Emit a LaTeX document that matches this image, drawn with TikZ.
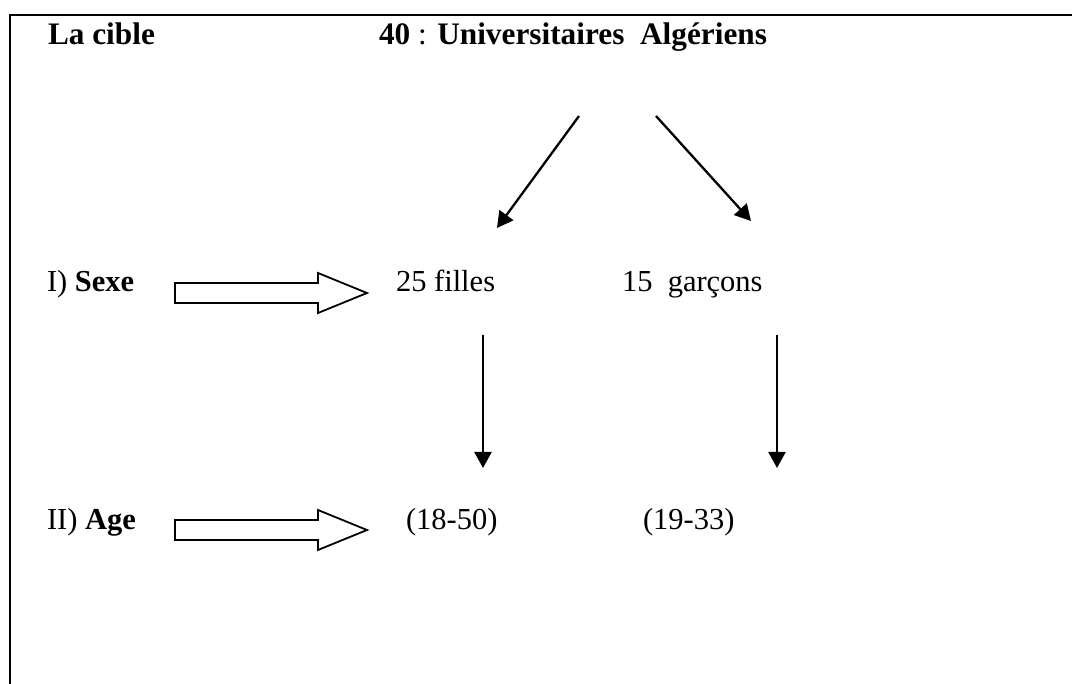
\documentclass[tikz,border=0pt]{standalone}
\usepackage{fontspec}
\setmainfont{Liberation Serif}
\usetikzlibrary{arrows.meta}
\begin{document}
\begin{tikzpicture}[x=1pt,y=-1pt,
  txt/.style={anchor=base west,inner sep=0pt,outer sep=0pt,font=\fontsize{30.5}{36}\selectfont},
  ttl/.style={anchor=base west,inner sep=0pt,outer sep=0pt,font=\fontsize{31.3}{37}\selectfont},
  thinarrow/.style={line width=2.3pt,-{Triangle[length=16pt,width=17pt]}},
  blockarrow/.style={line width=1.8pt,line join=miter,fill=white},
  frame/.style={line width=2.4pt}]
\useasboundingbox (0,0) rectangle (1072,684);
\draw[frame] (10,684) -- (10,15) -- (1072,15);
% texts
\node[ttl] (cible) at (48,45) {\textbf{La cible}};
\node[ttl] (titre) at (379,45) {\textbf{40} : \textbf{Universitaires~~Algériens}};
\node[txt] (sexe) at (47,292) {I) \textbf{Sexe}};
\node[txt] (filles) at (396,292) {25 filles};
\node[txt] (garcons) at (622,292) {15~~garçons};
\node[txt] (age) at (47,530) {II) \textbf{Age}};
\node[txt] (a1850) at (406,530) {(18-50)};
\node[txt] (a1933) at (643,530) {(19-33)};
% thin arrows
\coordinate (t1) at (579,116);
\coordinate (t1e) at (497,228);
\coordinate (t2) at (656,116);
\coordinate (t2e) at (751,221);
\coordinate (f1) at (483,335);
\coordinate (f1e) at (483,468);
\coordinate (g1) at (777,335);
\coordinate (g1e) at (777,468);
\draw[thinarrow] (t1) -- (t1e);
\draw[thinarrow] (t2) -- (t2e);
\draw[thinarrow] (f1) -- (f1e);
\draw[thinarrow] (g1) -- (g1e);
% block arrows
\draw[blockarrow] (175,283) -- (318,283) -- (318,273) -- (367,293) -- (318,313) -- (318,303) -- (175,303) -- cycle;
\draw[blockarrow] (175,520) -- (318,520) -- (318,510) -- (367,530) -- (318,550) -- (318,540) -- (175,540) -- cycle;
\end{tikzpicture}
\end{document}
